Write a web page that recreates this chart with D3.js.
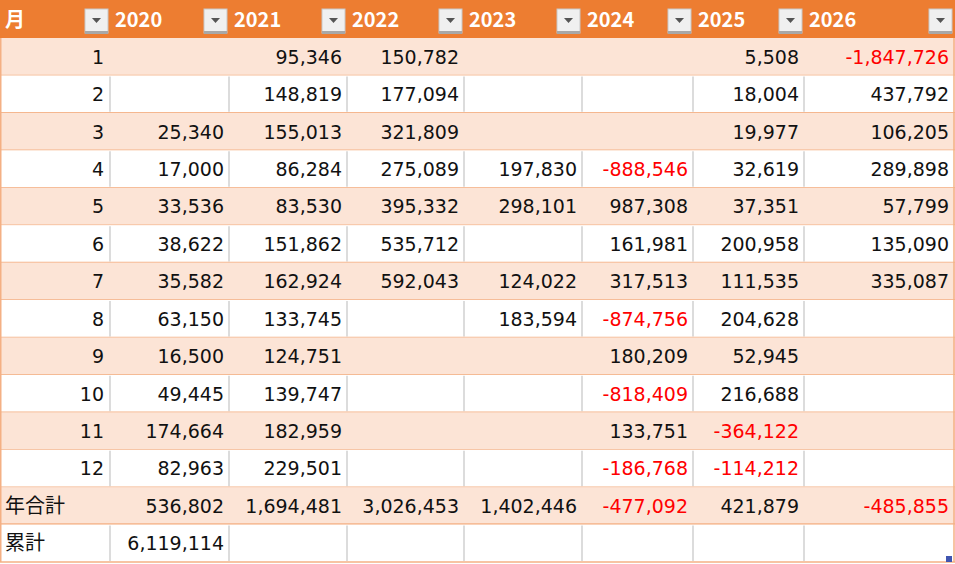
<!DOCTYPE html>
<html><head><meta charset="utf-8">
<script src="https://cdn.jsdelivr.net/npm/d3@7"></script>
<style>body{margin:0;background:#fff}</style></head>
<body><svg id="c" width="955" height="564"></svg>
<script>
const headers = ["月","2020","2021","2022","2023","2024","2025","2026"];
const rowLabels = ["1","2","3","4","5","6","7","8","9","10","11","12","年合計","累計"];
const y2020 = [null,null,25340,17000,33536,38622,35582,63150,16500,49445,174664,82963,536802,6119114];
const y2021 = [95346,148819,155013,86284,83530,151862,162924,133745,124751,139747,182959,229501,1694481,null];
const y2022 = [150782,177094,321809,275089,395332,535712,592043,null,null,null,null,null,3026453,null];
const y2023 = [null,null,null,197830,298101,null,124022,183594,null,null,null,null,1402446,null];
const y2024 = [null,null,null,-888546,987308,161981,317513,-874756,180209,-818409,133751,-186768,-477092,null];
const y2025 = [5508,18004,19977,32619,37351,200958,111535,204628,52945,216688,-364122,-114212,421879,null];
const y2026 = [-1847726,437792,106205,289898,57799,135090,335087,null,null,null,null,null,-485855,null];
const series = [y2020,y2021,y2022,y2023,y2024,y2025,y2026];

const edges = [0,110,229,347,464,582,693,804,954];
const svg = d3.select("#c");
const font = "'Noto Sans CJK JP','Noto Sans',sans-serif";
const numFont = "'DejaVu Sans',sans-serif";
const headH = 38;
const y = d3.scaleBand().domain(d3.range(rowLabels.length)).range([headH,562]);
const rh = y.bandwidth();
const fmt = d3.format(",");

svg.append("rect").attr("x",0).attr("y",0).attr("width",955).attr("height",headH).attr("fill","#ED7D31");
headers.forEach((h,i)=>{
  svg.append("text").attr("x",edges[i]+5).attr("y",27).text(h)
    .attr("fill","#fff").attr("font-weight","bold").attr("font-size",20).attr("font-family",font);
  const bx = edges[i+1]-25;
  const g = svg.append("g");
  g.append("rect").attr("x",bx).attr("y",9).attr("width",23).attr("height",24).attr("fill","#f0f0f0").attr("stroke","#c8c8c8");
  g.append("rect").attr("x",bx).attr("y",31).attr("width",23).attr("height",3).attr("fill","#a8a8a8");
  g.append("path").attr("d",`M${bx+7},18 h9 l-4.5,5 z`).attr("fill","#555");
});

rowLabels.forEach((r,ri)=>{
  const yy = y(ri);
  const band = (ri%2===0 && ri<13) || ri===12;
  svg.append("rect").attr("x",0).attr("y",yy).attr("width",955).attr("height",rh)
    .attr("fill", band ? "#FCE4D6" : "#fff");
  if(!band){
    edges.slice(1,-1).forEach(e=>svg.append("line").attr("x1",e).attr("x2",e).attr("y1",yy+1).attr("y2",yy+rh-1).attr("stroke","#d0d0d0").attr("stroke-width",1.5));
  }
  svg.append("line").attr("x1",0).attr("x2",955).attr("y1",yy+rh).attr("y2",yy+rh)
    .attr("stroke","#F4B084").attr("stroke-width", ri===12?2.5:1.5);
  const isNum = ri<12;
  svg.append("text").attr("x", isNum? edges[1]-6 : 5).attr("y",yy+rh/2+7)
    .attr("text-anchor", isNum?"end":"start").text(r)
    .attr("font-size",isNum?19:20).attr("font-family",isNum?numFont:font).attr("fill","#111");
  series.forEach((s,ci)=>{
    const v = s[ri];
    if(v==null) return;
    svg.append("text").attr("x",edges[ci+2]-5).attr("y",yy+rh/2+7).attr("text-anchor","end")
      .text(fmt(v).replace("−","-")).attr("font-size",19).attr("font-family",numFont)
      .attr("fill", v<0 ? "#FF0000" : "#111");
  });
});
svg.append("line").attr("x1",0.75).attr("x2",0.75).attr("y1",headH).attr("y2",562).attr("stroke","#F4B084").attr("stroke-width",1.5);
svg.append("line").attr("x1",954).attr("x2",954).attr("y1",headH).attr("y2",562).attr("stroke","#F4B084").attr("stroke-width",1.5);
svg.append("rect").attr("x",946).attr("y",556).attr("width",6).attr("height",6).attr("fill","#4055b0");
</script></body></html>
